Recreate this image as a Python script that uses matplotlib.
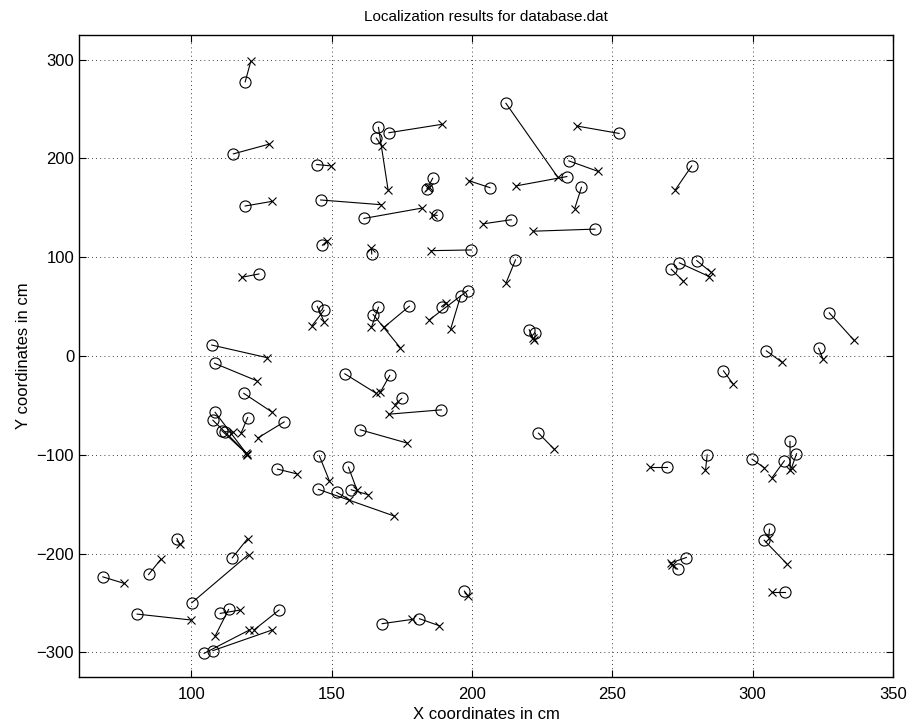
import matplotlib
matplotlib.use('Agg')
import matplotlib.pyplot as plt
import numpy as np

# circles (reference positions) and crosses (localization results), paired by index
circle_x = [119.2, 115.0, 144.7, 119.2, 146.1, 161.5, 146.7, 166.7, 170.4, 165.9,
            186.0, 184.0, 206.4, 233.8, 212.1, 252.4, 234.5, 239.0, 187.6, 214.0,
            243.8, 278.3, 124.1, 144.9, 147.3, 107.3, 108.3, 118.7, 108.5, 107.7,
            120.1, 133.1, 110.9, 112.1, 164.3, 199.8, 215.5, 166.7, 164.8, 177.7,
            198.5, 196.0, 189.2, 220.4, 222.6, 154.7, 170.7, 175.0, 189.1, 160.2,
            223.7, 271.0, 273.9, 280.1, 327.3, 304.9, 323.5, 289.6, 269.5, 283.8,
            299.8, 311.3, 313.3, 315.6, 306.0, 304.1, 311.5, 276.4, 273.3, 130.7,
            145.6, 145.3, 151.8, 156.0, 157.0, 197.3, 168.0, 181.3, 68.5, 84.8,
            94.9, 80.7, 100.2, 114.6, 110.3, 113.3, 104.6, 107.7, 131.3]
circle_y = [277.6, 204.7, 193.9, 151.9, 158.0, 139.3, 112.2, 231.5, 226.1, 220.7,
            180.0, 169.5, 170.5, 181.7, 255.9, 225.4, 197.6, 170.8, 142.4, 138.0,
            128.5, 192.5, 83.1, 50.3, 46.3, 11.1, -7.4, -37.8, -57.0, -65.0,
            -62.3, -66.7, -75.6, -76.6, 103.4, 107.4, 97.3, 49.4, 42.0, 50.4,
            66.3, 61.2, 50.1, 26.5, 23.1, -18.0, -19.7, -43.0, -54.5, -74.7,
            -78.1, 87.9, 94.3, 96.6, 43.7, 5.2, 7.9, -15.0, -112.5, -100.0,
            -104.4, -106.1, -86.5, -99.0, -175.4, -186.5, -238.7, -204.0, -215.8, -114.5,
            -100.9, -135.0, -138.0, -112.5, -135.4, -238.0, -271.0, -266.0, -223.6, -221.2,
            -184.8, -261.3, -249.8, -204.4, -260.6, -256.6, -301.0, -298.3, -257.2]
cross_x = [121.2, 127.8, 149.8, 128.8, 167.7, 182.2, 148.5, 170.1, 189.3, 167.9,
           184.3, 184.6, 199.1, 215.6, 230.5, 237.3, 244.8, 236.6, 186.0, 204.1,
           221.9, 272.5, 117.9, 147.3, 143.0, 127.1, 123.3, 128.8, 119.8, 119.5,
           117.8, 123.7, 120.0, 115.0, 164.2, 185.5, 212.2, 164.2, 174.4, 168.7,
           184.8, 192.4, 190.8, 221.8, 222.2, 165.8, 167.3, 172.5, 170.3, 177.0,
           229.3, 275.2, 284.6, 285.0, 336.1, 310.4, 325.1, 293.0, 263.6, 283.2,
           304.1, 306.9, 313.4, 313.9, 305.7, 312.1, 306.8, 270.9, 271.2, 137.6,
           149.2, 172.3, 156.2, 159.0, 163.0, 198.7, 178.6, 188.4, 76.2, 89.2,
           95.9, 100.0, 120.4, 120.1, 117.4, 108.5, 120.7, 128.8, 122.5]
cross_y = [298.3, 214.6, 192.5, 156.6, 153.2, 149.8, 116.6, 168.5, 234.6, 212.9,
           170.5, 171.5, 177.3, 172.2, 181.4, 232.9, 187.1, 149.2, 142.7, 133.9,
           126.4, 168.5, 79.7, 34.8, 30.7, -1.7, -25.0, -56.8, -99.2, -97.8,
           -77.6, -83.0, -99.8, -77.2, 109.1, 106.7, 74.4, 29.2, 8.6, 29.2,
           36.6, 27.2, 53.8, 18.0, 16.2, -37.6, -36.9, -49.1, -58.9, -88.2,
           -94.3, 76.1, 80.4, 85.2, 16.0, -6.2, -3.2, -28.2, -112.5, -115.8,
           -113.1, -123.2, -115.8, -113.0, -183.8, -210.1, -238.7, -209.4, -211.4, -119.3,
           -126.3, -162.0, -145.3, -135.4, -140.4, -243.1, -266.7, -273.1, -230.3, -205.7,
           -190.6, -267.3, -201.0, -184.8, -257.2, -283.5, -277.4, -277.4, -277.0]

plt.rcParams['font.family'] = ['Liberation Sans', 'DejaVu Sans']

fig = plt.figure(figsize=(9.09, 7.24), dpi=100)
ax = fig.add_axes([0.0869, 0.0649, 0.8955, 0.8867])

for cx, cy, xx, xy in zip(circle_x, circle_y, cross_x, cross_y):
    ax.plot([cx, xx], [cy, xy], color='black', linewidth=0.8)
ax.plot(circle_x, circle_y, linestyle='none', marker='o', markersize=8,
        markerfacecolor='none', markeredgecolor='black', markeredgewidth=0.8)
ax.plot(cross_x, cross_y, linestyle='none', marker='x', markersize=6,
        color='black', markeredgewidth=0.8)

ax.set_xlim(60, 350)
ax.set_ylim(-325, 325)
ax.set_xticks([100, 150, 200, 250, 300, 350])
ax.set_yticks([-300, -200, -100, 0, 100, 200, 300])
ax.grid(True, color='black', linestyle=(0, (1, 4)), linewidth=0.6)
ax.tick_params(direction='in', top=True, right=True, length=5, labelsize=12)
ax.tick_params(axis='x', pad=7)
for s in ax.spines.values():
    s.set_linewidth(1.0)

ax.set_title('Localization results for database.dat', fontsize=11, pad=10)
ax.set_xlabel('X coordinates in cm', fontsize=12, labelpad=4)
ax.set_ylabel('Y coordinates in cm', fontsize=12, labelpad=4)

fig.savefig('out.png', dpi=100)
